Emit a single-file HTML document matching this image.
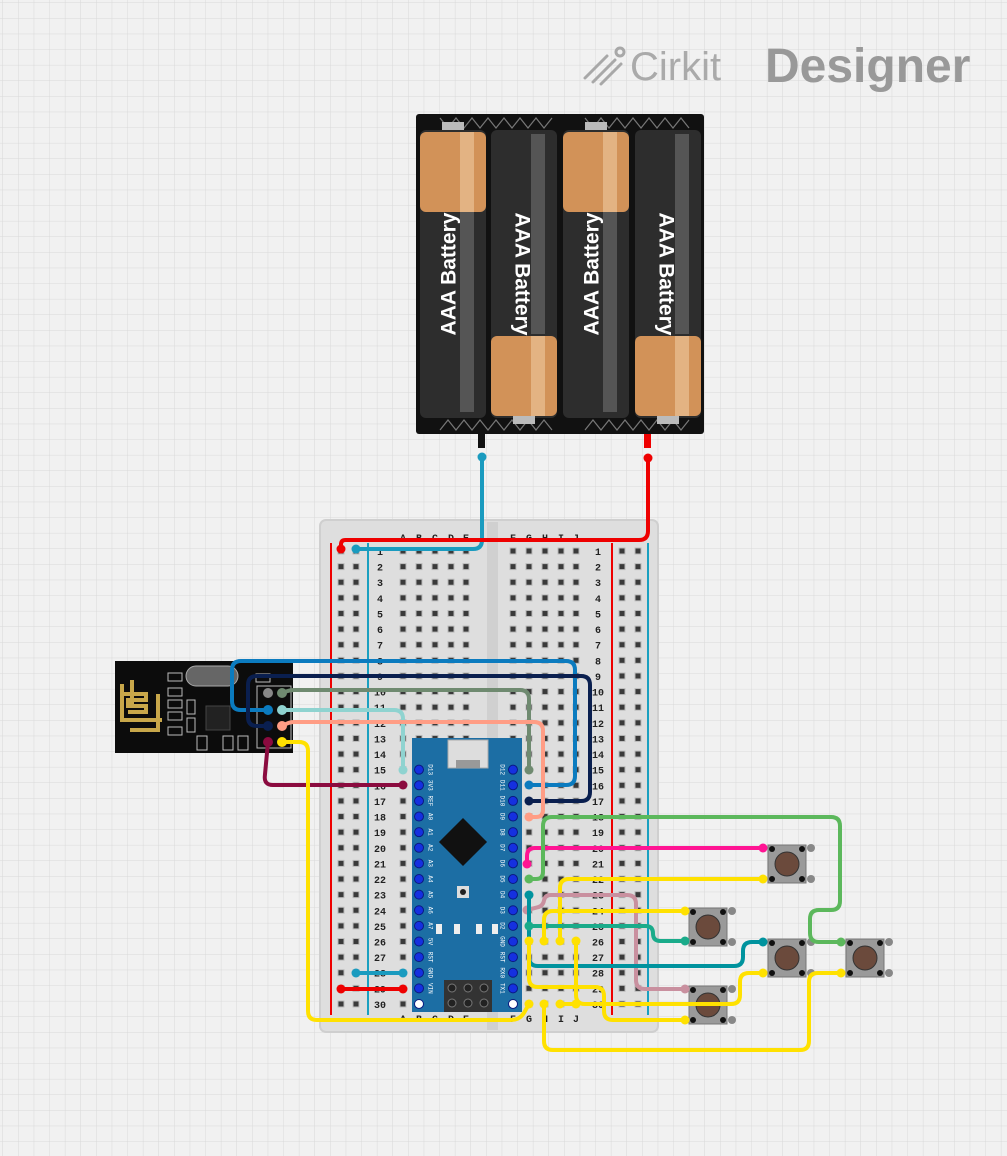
<!DOCTYPE html><html><head><style>html,body{margin:0;padding:0;background:#f1f1f1;}svg{display:block}</style></head><body>
<svg id="s" xmlns="http://www.w3.org/2000/svg" width="1007" height="1156" viewBox="0 0 1007 1156" font-family="Liberation Mono, monospace">
<defs><pattern id="g" width="15.6" height="15.6" patternUnits="userSpaceOnUse" x="3" y="3"><path d="M15.6 0V15.6H0" fill="none" stroke="#d9d9d9" stroke-width="1"/></pattern></defs>
<rect width="1007" height="1156" fill="#f1f1f1"/><rect width="1007" height="1156" fill="url(#g)"/>
<!-- logo -->
<g fill="#a3a3a3" font-family="Liberation Sans, sans-serif">
<g stroke="#a8a8a8" stroke-width="3" fill="none" stroke-linecap="round"><path d="M585 78l22-22M593 82l22-22M601 84l20-20"/><circle cx="620" cy="52" r="4"/></g>
<text x="630" y="80" font-size="40" fill="#aaa">Cirkit</text>
<text x="765" y="82" font-size="48" font-weight="bold" fill="#999">Designer</text></g>
<!-- battery -->
<rect x="416" y="114" width="288" height="320" rx="3" fill="#111"/>
<path d="M440 118 l8 10 l8 -10 l8 10 l8 -10 l8 10 l8 -10 l8 10 l8 -10 l8 10 l8 -10 l8 10 l8 -10 l8 10 l8-10 M585 118 l8 10 l8 -10 l8 10 l8 -10 l8 10 l8 -10 l8 10 l8 -10 l8 10 l8 -10 l8 10 l8 -10 l8 10 M440 430 l8 -10 l8 10 l8 -10 l8 10 l8 -10 l8 10 l8 -10 l8 10 l8-10 l8 10 l8 -10 l8 10 l8 -10 l8 10 M585 430 l8 -10 l8 10 l8 -10 l8 10 l8 -10 l8 10 l8 -10 l8 10 l8 -10 l8 10 l8 -10 l8 10 l8 -10" stroke="#777" fill="none" stroke-width="1.2"/>
<g id="bats"></g>
<rect x="478" y="434" width="7" height="14" fill="#111"/><rect x="644" y="434" width="7" height="14" fill="#e00"/>
<!-- breadboard -->
<rect x="320" y="520" width="338" height="512" rx="6" fill="#dedede" stroke="#cfcfcf" stroke-width="2"/>
<rect x="487" y="522" width="11" height="508" fill="#d0d0d0"/>
<g stroke-width="2"><line x1="331" y1="543" x2="331" y2="1015" stroke="#e00"/><line x1="612" y1="543" x2="612" y2="1015" stroke="#e00"/><line x1="368" y1="543" x2="368" y2="1015" stroke="#1aa0c0"/><line x1="648" y1="543" x2="648" y2="1015" stroke="#1aa0c0"/></g>
<g id="bb" font-size="10" font-weight="bold" fill="#222"></g>
<!-- nrf -->
<rect x="115" y="661" width="178" height="92" fill="#0c0c0c"/>
<path d="M122 684v36h40M122 694h24v6h-18v6h18v6h-18M132 680v24" stroke="#c8a74a" stroke-width="4" fill="none"/>
<path d="M158 694v36h-28" stroke="#c8a74a" stroke-width="4" fill="none"/>
<rect x="186" y="666" width="52" height="20" rx="10" fill="#666" stroke="#aaa"/>
<rect x="206" y="706" width="24" height="24" fill="#222" stroke="#444"/>
<g fill="none" stroke="#bbb" stroke-width="1"><rect x="168" y="673" width="14" height="8"/><rect x="168" y="688" width="14" height="8"/><rect x="168" y="700" width="14" height="8"/><rect x="168" y="712" width="14" height="8"/><rect x="168" y="727" width="14" height="8"/><rect x="187" y="700" width="8" height="14"/><rect x="187" y="718" width="8" height="14"/><rect x="197" y="736" width="10" height="14"/><rect x="223" y="736" width="10" height="14"/><rect x="238" y="736" width="10" height="14"/><rect x="256" y="674" width="14" height="8"/><rect x="257" y="686" width="34" height="62"/></g>
<g stroke="none"><circle cx="268" cy="693" r="5" fill="#888"/><circle cx="282" cy="693" r="5" fill="#6f8a70"/><circle cx="268" cy="710" r="5" fill="#0b7bbf"/><circle cx="282" cy="710" r="5" fill="#8fd3d0"/><circle cx="268" cy="726" r="5" fill="#0a1f4f"/><circle cx="282" cy="726" r="5" fill="#ff9d85"/><circle cx="268" cy="742" r="5" fill="#8b0b3f"/><circle cx="282" cy="742" r="5" fill="#ffe100"/></g>
<!-- nano -->
<rect x="412" y="738" width="110" height="274" fill="#1c6ea4"/>
<rect x="448" y="740" width="40" height="28" fill="#ddd" stroke="#aaa"/><rect x="456" y="760" width="24" height="8" fill="#999"/>
<rect x="446" y="825" width="34" height="34" fill="#111" transform="rotate(45 463 842)"/>
<rect x="457" y="886" width="12" height="12" fill="#ddd"/><circle cx="463" cy="892" r="3" fill="#222"/>
<g fill="#eee"><rect x="436" y="924" width="6" height="10"/><rect x="454" y="924" width="6" height="10"/><rect x="476" y="924" width="6" height="10"/><rect x="492" y="924" width="6" height="10"/></g>
<rect x="444" y="980" width="48" height="32" fill="#333"/>
<g fill="#222" stroke="#777"><circle cx="452" cy="988" r="4"/><circle cx="468" cy="988" r="4"/><circle cx="484" cy="988" r="4"/><circle cx="452" cy="1003" r="4"/><circle cx="468" cy="1003" r="4"/><circle cx="484" cy="1003" r="4"/></g>
<g id="nano" font-size="6" fill="#fff"></g>
<!-- buttons -->
<g id="btns"></g>
<g id="wires" fill="none" stroke-width="4" stroke-linejoin="round" stroke-linecap="round"></g>
</svg>
<script>
const NS="http://www.w3.org/2000/svg";
function el(p,t,a,txt){const e=document.createElementNS(NS,t);for(const k in a)e.setAttribute(k,a[k]);if(txt!=null)e.textContent=txt;document.getElementById(p).appendChild(e);return e;}
[[420,true],[491,false],[563,true],[635,false]].forEach(([x,top])=>{
 el('bats','rect',{x:x,y:130,width:66,height:288,rx:6,fill:'#2d2d2d'});
 if(top){el('bats','rect',{x:x,y:132,width:66,height:80,rx:6,fill:'#d29258'});el('bats','rect',{x:x+40,y:132,width:14,height:80,fill:'#e3b383'});}
 else{el('bats','rect',{x:x,y:336,width:66,height:80,rx:6,fill:'#d29258'});el('bats','rect',{x:x+40,y:336,width:14,height:80,fill:'#e3b383'});}
 el('bats','rect',{x:x+40,y:top?212:134,width:14,height:200,fill:'#555'});
 el('bats','rect',{x:x+22,y:top?122:416,width:22,height:8,fill:'#bbb'});
 const cx=x+30,cy=274;
 el('bats','text',{x:cx,y:cy,'font-size':21,'font-weight':'bold',fill:'#fff','font-family':'Liberation Sans, sans-serif','text-anchor':'middle','dominant-baseline':'middle',transform:`rotate(${top?-90:90} ${cx} ${cy})`},'AAA Battery');
});
const L=[403,419,435,451,466],R=[513,529,545,561,576],rails=[341,356,622,638];
const ry=n=>551+(n-1)*15.62;
'ABCDE'.split('').forEach((c,i)=>{el('bb','text',{x:L[i],y:541,'text-anchor':'middle'},c);el('bb','text',{x:L[i],y:1022,'text-anchor':'middle'},c);});
'FGHIJ'.split('').forEach((c,i)=>{el('bb','text',{x:R[i],y:541,'text-anchor':'middle'},c);el('bb','text',{x:R[i],y:1022,'text-anchor':'middle'},c);});
for(let n=1;n<=30;n++){const y=ry(n);
 [...L,...R,...rails].forEach(x=>el('bb','rect',{x:x-3,y:y-3,width:6,height:6,fill:'#3a3a3a',stroke:'#bbb','stroke-width':1}));
 el('bb','text',{x:380,y:y+4,'text-anchor':'middle'},n);el('bb','text',{x:598,y:y+4,'text-anchor':'middle'},n);}
const ln=['D13','3V3','REF','A0','A1','A2','A3','A4','A5','A6','A7','5V','RST','GND','VIN',''],rn=['D12','D11','D10','D9','D8','D7','D6','D5','D4','D3','D2','GND','RST','RX0','TX1',''];
for(let i=0;i<16;i++){const y=ry(15+i);
 el('nano','circle',{cx:419,cy:y,r:4.5,fill:i==15?'#fff':'#1530e0',stroke:'#0a1a80'});
 el('nano','circle',{cx:513,cy:y,r:4.5,fill:i==15?'#fff':'#1530e0',stroke:'#0a1a80'});
 el('nano','text',{x:430,y:y,'text-anchor':'middle','dominant-baseline':'middle',transform:`rotate(90 430 ${y})`},ln[i]);
 el('nano','text',{x:502,y:y,'text-anchor':'middle','dominant-baseline':'middle',transform:`rotate(90 502 ${y})`},rn[i]);}
[[768,845],[689,908],[768,939],[846,939],[689,986]].forEach(([x,y])=>{
 el('btns','rect',{x:x,y:y,width:38,height:38,fill:'#9a9a9a',stroke:'#777'});
 el('btns','circle',{cx:x+19,cy:y+19,r:12,fill:'#6b4a3c',stroke:'#333'});
 [[4,4],[34,4],[4,34],[34,34]].forEach(([a,b])=>el('btns','circle',{cx:x+a,cy:y+b,r:3,fill:'#111'}));
 el('btns','circle',{cx:x+43,cy:y+3,r:4,fill:'#888'});el('btns','circle',{cx:x+43,cy:y+34,r:4,fill:'#888'});
});
function rpath(pts,r){let d=`M${pts[0][0]} ${pts[0][1]}`;
 for(let i=1;i<pts.length-1;i++){const [px,py]=pts[i-1],[cx,cy]=pts[i],[nx,ny]=pts[i+1];
  const l1=Math.hypot(cx-px,cy-py),l2=Math.hypot(nx-cx,ny-cy);const rr=Math.min(r,l1/2,l2/2);
  const ax=cx-(cx-px)/l1*rr,ay=cy-(cy-py)/l1*rr,bx=cx+(nx-cx)/l2*rr,by=cy+(ny-cy)/l2*rr;
  d+=` L${ax} ${ay} Q${cx} ${cy} ${bx} ${by}`;}
 const e=pts[pts.length-1];return d+` L${e[0]} ${e[1]}`;}
function w(c,pts){el('wires','path',{d:rpath(pts,9),stroke:c});
 [pts[0],pts[pts.length-1]].forEach(p=>el('wires','circle',{cx:p[0],cy:p[1],r:4.5,fill:c,stroke:'none'}));}
const Y='#ffe100';
w('#1a9bbf',[[482,457],[482,549],[356,549]]);
w('#ee0000',[[648,458],[648,540],[341,540],[341,549]]);
w('#1a9bbf',[[356,973],[403,973]]);
w('#ee0000',[[341,989],[403,989]]);
w('#0b7bbf',[[268,710],[232,710],[232,661],[575,661],[575,785],[529,785]]);
w('#0a1f4f',[[268,726],[248,726],[248,676],[590,676],[590,801],[529,801]]);
w('#6f8a70',[[282,693],[290,690],[529,690],[529,770]]);
w('#8fd3d0',[[282,710],[403,710],[403,770]]);
w('#ff9d85',[[282,726],[290,722],[543,722],[543,817],[529,817]]);
w('#8b0b3f',[[268,742],[264,785],[403,785]]);
w(Y,[[282,742],[308,742],[308,1020],[520,1020],[529,1004]]);
w('#ff1493',[[527,864],[527,848],[763,848]]);
w('#5cb85c',[[529,879],[543,879],[543,817],[840,817],[840,910],[810,910],[810,942],[841,942]]);
w(Y,[[560,941],[560,879],[763,879]]);
w('#c9909f',[[527,910],[543,906],[545,895],[636,895],[636,989],[685,989]]);
w('#00939e',[[529,895],[529,966],[743,966],[743,942],[763,942]]);
w('#1aab8a',[[529,926],[653,926],[653,941],[685,941]]);
w(Y,[[544,941],[544,911],[685,911]]);
w(Y,[[576,941],[576,1004],[740,1004],[740,973],[763,973]]);
w(Y,[[529,941],[529,987],[604,987],[604,1020],[685,1020]]);
w(Y,[[544,1004],[544,1050],[809,1050],[809,973],[841,973]]);
w(Y,[[560,1004],[576,1004]]);
</script>
</body></html>
